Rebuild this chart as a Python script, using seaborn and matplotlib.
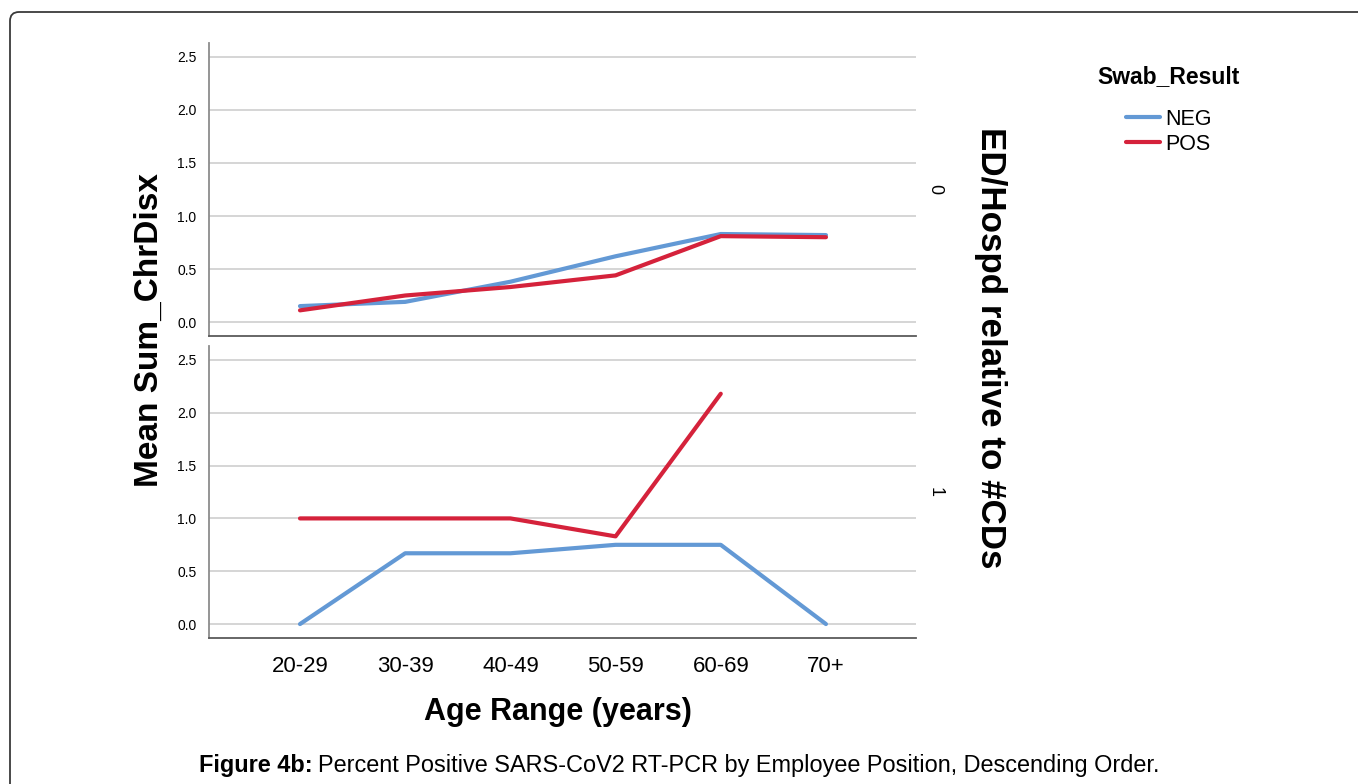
import numpy as np
import pandas as pd
import matplotlib
matplotlib.use("Agg")
import matplotlib.pyplot as plt
from matplotlib.patches import FancyBboxPatch
from matplotlib.ticker import FormatStrFormatter
import seaborn as sns

# ---- data -------------------------------------------------------------
age_ranges = ["20-29", "30-39", "40-49", "50-59", "60-69", "70+"]
swab_levels = ["NEG", "POS"]
ed_levels = ["0", "1"]

# mean Sum_ChrDisx per age range, ED/Hospd = 0
neg_ed0 = [0.15, 0.19, 0.38, 0.62, 0.83, 0.82]
pos_ed0 = [0.11, 0.25, 0.33, 0.44, 0.81, 0.80]
# mean Sum_ChrDisx per age range, ED/Hospd = 1 (no POS cases aged 70+)
neg_ed1 = [0.00, 0.67, 0.67, 0.75, 0.75, 0.00]
pos_ed1 = [1.00, 1.00, 1.00, 0.83, 2.18, np.nan]

yticks = [0.0, 0.5, 1.0, 1.5, 2.0, 2.5]

rows = []
for ed, series in zip(ed_levels, [(neg_ed0, pos_ed0), (neg_ed1, pos_ed1)]):
    for swab, vals in zip(swab_levels, series):
        for a, v in zip(age_ranges, vals):
            rows.append({"Age": a, "Swab_Result": swab, "ED": ed, "Mean": v})
df = pd.DataFrame(rows).dropna()

# ---- style ------------------------------------------------------------
sns.set_theme(style="white")
plt.rcParams["font.family"] = ["Liberation Sans", "DejaVu Sans"]
plt.rcParams["text.color"] = "black"
plt.rcParams["axes.labelcolor"] = "black"
plt.rcParams["xtick.color"] = "black"
plt.rcParams["ytick.color"] = "black"

palette = {"NEG": "#6399D5", "POS": "#D5223B"}
W, H = 1358, 784
fig = plt.figure(figsize=(W / 100, H / 100), dpi=100)


def fx(px):
    return px / W


def fy(py):
    return 1 - py / H


left, right = 209, 916
panels = [(43, 336), (346, 638)]
axes = []
for i, (top, bot) in enumerate(panels):
    ax = fig.add_axes([fx(left), fy(bot), fx(right) - fx(left), (bot - top) / H])
    sub = df[df["ED"] == ed_levels[i]]
    sns.lineplot(data=sub, x="Age", y="Mean", hue="Swab_Result",
                 hue_order=swab_levels, palette=palette, linewidth=3.0,
                 legend=False, ax=ax, sort=False, zorder=3)
    ax.set_xlim(-0.865, 5.856)
    ax.set_ylim(-0.132, 2.632)
    ax.set_yticks(yticks)
    ax.yaxis.set_major_formatter(FormatStrFormatter("%.1f"))
    ax.grid(axis="y", color="#d2d2d2", linewidth=1.3, zorder=0)
    ax.grid(axis="x", visible=False)
    ax.set_xlabel("")
    ax.set_ylabel("")
    for s in ("top", "right"):
        ax.spines[s].set_visible(False)
    ax.spines["left"].set_color("#8c8c8c")
    ax.spines["left"].set_linewidth(1.3)
    ax.spines["bottom"].set_color("#5a5a5a")
    ax.spines["bottom"].set_linewidth(1.3)
    ax.tick_params(axis="y", length=0, pad=9, labelsize=10, labelcolor="black")
    ax.tick_params(axis="x", length=0, pad=13, labelsize=16, labelcolor="black")
    ax.set_facecolor("white")
    axes.append(ax)

axes[0].set_xticklabels([])
axes[0].tick_params(axis="x", labelbottom=False)
axes[1].set_xticks(range(len(age_ranges)))
axes[1].set_xticklabels(age_ranges)

# facet row labels
for lab, (top, bot) in zip(ed_levels, panels):
    fig.text(fx(935), fy((top + bot) / 2), lab, rotation=270, fontsize=13,
             ha="center", va="center", color="black")

# axis titles
fig.text(fx(149), fy(330), "Mean Sum_ChrDisx", rotation=90, fontsize=24,
         fontweight="bold", ha="center", va="center")
fig.text(fx(558), fy(712), "Age Range (years)", fontsize=22,
         fontweight="bold", ha="center", va="center")
fig.text(fx(990), fy(348), "ED/Hospd relative to #CDs", rotation=270,
         fontsize=25.2, fontweight="bold", ha="center", va="center")

# legend
handles = [plt.Line2D([], [], color=palette[k], linewidth=3.0) for k in swab_levels]
leg = fig.legend(handles, swab_levels, title="Swab_Result", loc="upper center",
                 bbox_to_anchor=(fx(1169), fy(54)), frameon=False,
                 fontsize=15.5, title_fontproperties={"weight": "bold", "size": 16.5},
                 handlelength=1.55, handletextpad=0.25, labelspacing=0.2,
                 borderpad=0)
leg._legend_box.sep = 15

# caption
renderer = fig.canvas.get_renderer()
t1 = fig.text(fx(199), fy(772), "Figure 4b:", fontsize=16.9, fontweight="bold",
              ha="left", va="baseline")
bb = t1.get_window_extent(renderer)
fig.text((bb.x1 + 5) / W, fy(772),
         "Percent Positive SARS-CoV2 RT-PCR by Employee Position, Descending Order.",
         fontsize=16.9, ha="left", va="baseline")

# rounded outer frame
frame = FancyBboxPatch((0.10, -0.3), 14.0, 7.72 + 0.3,
                       boxstyle="round,pad=0,rounding_size=0.09",
                       transform=fig.dpi_scale_trans, fill=False,
                       edgecolor="#3a3a3a", linewidth=1.3, clip_on=False)
fig.patches.append(frame)

fig.savefig("out.png", dpi=100, facecolor="white")
